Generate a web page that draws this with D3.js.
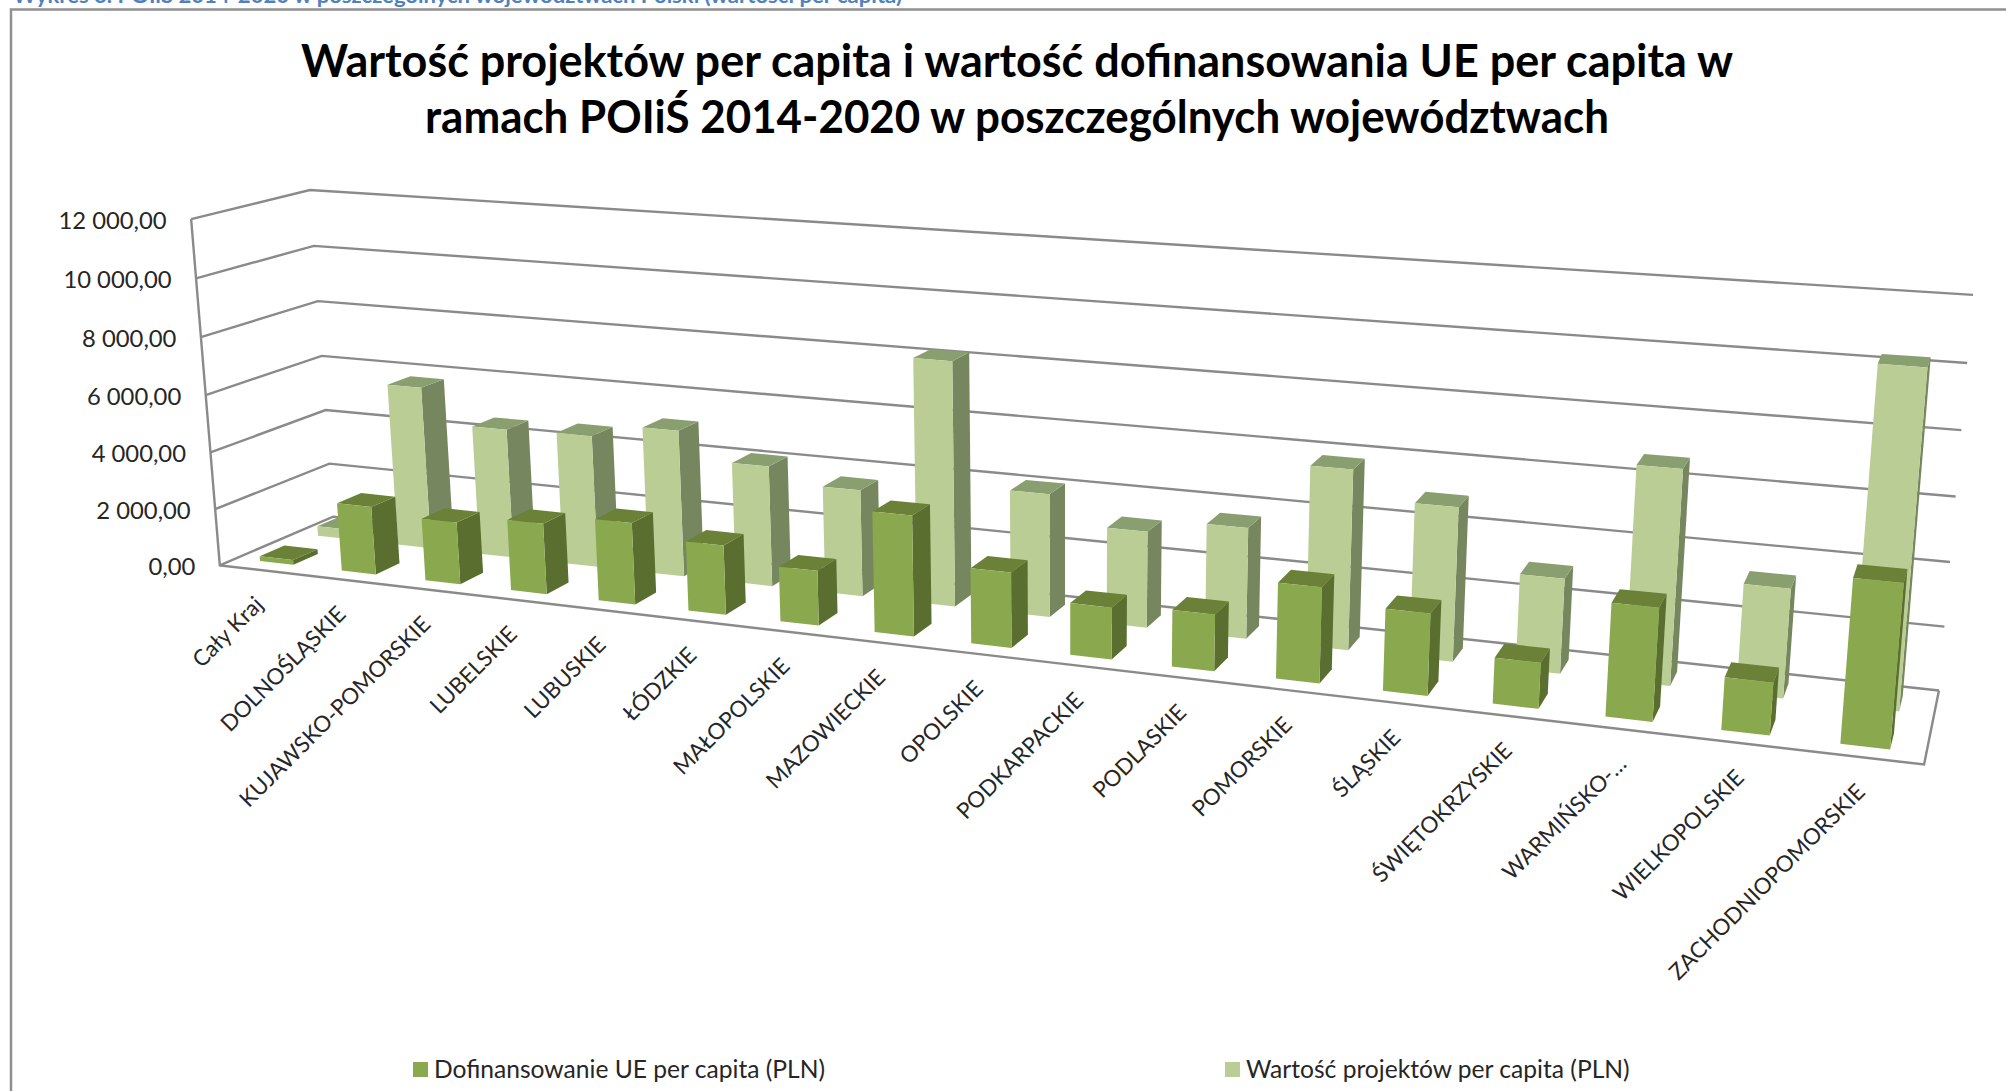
<!DOCTYPE html>
<html>
<head>
<meta charset="utf-8">
<script src="https://cdn.jsdelivr.net/npm/d3@7"></script>
<style>
html, body { margin: 0; padding: 0; background: #fff; }
svg { display: block; }
text { font-family: Lato, "Open Sans", sans-serif; fill: #262626; }
</style>
</head>
<body>
<div class="chart-container"></div>
<script>
var categories = ["Cały Kraj", "DOLNOŚLĄSKIE", "KUJAWSKO-POMORSKIE", "LUBELSKIE", "LUBUSKIE", "ŁÓDZKIE", "MAŁOPOLSKIE", "MAZOWIECKIE", "OPOLSKIE", "PODKARPACKIE", "PODLASKIE", "POMORSKIE", "ŚLĄSKIE", "ŚWIĘTOKRZYSKIE", "WARMIŃSKO-…", "WIELKOPOLSKIE", "ZACHODNIOPOMORSKIE"];
var dofinansowanie = [170, 2376, 2147, 2427, 2769, 2344, 1829, 3973, 2460, 1674, 1812, 3026, 2565, 1418, 3459, 1591, 4890];
var wartosc = [350, 5776, 4560, 4615, 5082, 4145, 3631, 8211, 4110, 3187, 3633, 5817, 4934, 3013, 6722, 3397, 10280];
var yTicks = [0, 2000, 4000, 6000, 8000, 10000, 12000];
var titleLines = ["Wartość projektów per capita i wartość dofinansowania UE per capita w", "ramach POIiŚ 2014-2020 w poszczególnych województwach"];
var titleWidths = [1432, 1184];
var caption = "Wykres 6. POIiŚ 2014-2020 w poszczególnych województwach Polski (wartości per capita)";
var legendNames = ["Dofinansowanie UE per capita (PLN)", "Wartość projektów per capita (PLN)"];

var W = 2006, H = 1091;

// box corners: [across, depth, height] -> [px, py]
var corners = [
    [0, 0, 0, 220, 565], [0, 1, 0, 333, 517], [1, 1, 0, 1939, 690], [1, 0, 0, 1924, 765],
    [0, 0, 1, 191, 219], [0, 1, 1, 310, 190], [1, 1, 1, 1973, 295]
];

// least squares for the 11 camera numbers
function solveCamera(pts) {
    var rows = [], rhs = [];
    pts.forEach(function(p) {
        var u = p[0], d = p[1], h = p[2], px = p[3] / 1000, py = p[4] / 1000;
        rows.push([u, d, h, 1, 0, 0, 0, 0, -u * px, -d * px, -h * px]); rhs.push(px);
        rows.push([0, 0, 0, 0, u, d, h, 1, -u * py, -d * py, -h * py]); rhs.push(py);
    });
    var n = 11, A = [];
    for (var i = 0; i < n; i++) {
        A.push([]);
        for (var j = 0; j <= n; j++) {
            var s = 0;
            rows.forEach(function(r, k) { s += r[i] * (j < n ? r[j] : rhs[k]); });
            A[i].push(s);
        }
    }
    for (var c = 0; c < n; c++) {
        var best = c;
        for (var r = c + 1; r < n; r++) if (Math.abs(A[r][c]) > Math.abs(A[best][c])) best = r;
        var tmp = A[c]; A[c] = A[best]; A[best] = tmp;
        for (var r2 = 0; r2 < n; r2++) {
            if (r2 === c) continue;
            var f = A[r2][c] / A[c][c];
            for (var k2 = c; k2 <= n; k2++) A[r2][k2] -= f * A[c][k2];
        }
    }
    return A.map(function(row, i) { return row[n] / row[i]; });
}
var cam = solveCamera(corners);

function project(u, d, h) {
    var w = cam[8] * u + cam[9] * d + cam[10] * h + 1;
    return [1000 * (cam[0] * u + cam[1] * d + cam[2] * h + cam[3]) / w,
            1000 * (cam[4] * u + cam[5] * d + cam[6] * h + cam[7]) / w];
}

var x = d3.scaleBand().domain(categories).range([0, 1]).paddingInner(0.59).paddingOuter(0.295);
var z = d3.scaleBand().domain(["front", "back"]).range([0, 1]).paddingInner(0.58).paddingOuter(0.27);
var y = d3.scaleLinear().domain([0, 12000]).range([0, 1]);
var poly = d3.line();

var svg = d3.select(".chart-container").append("svg").attr("width", W).attr("height", H);

// caption is cut by the top of the page in the source too
svg.append("text").attr("x", 13).attr("y", 3).attr("font-size", 21).attr("font-weight", 700)
    .style("fill", "#4f81bd").attr("textLength", 889).attr("lengthAdjust", "spacingAndGlyphs").text(caption);

// chart frame
svg.append("path").attr("d", "M11,1091V9.5H" + W).attr("fill", "none").attr("stroke", "#909090").attr("stroke-width", 2.5);

svg.selectAll("text.title").data(titleLines).enter().append("text").attr("class", "title")
    .attr("x", 1017).attr("y", function(d, i) { return 77 + i * 56; })
    .attr("text-anchor", "middle").attr("font-size", 45).attr("font-weight", 700).style("fill", "#000")
    .attr("textLength", function(d, i) { return titleWidths[i]; }).attr("lengthAdjust", "spacingAndGlyphs")
    .text(function(d) { return d; });

// walls and floor
var grid = svg.append("g").attr("fill", "none").attr("stroke", "#8a8a8a").attr("stroke-width", 2.4);
yTicks.forEach(function(t) {
    grid.append("path").attr("d", poly([project(0, 0, y(t)), project(0, 1, y(t)), project(1, 1, y(t))]));
});
grid.append("path").attr("d", poly([project(0, 0, y(12000)), project(0, 0, 0), project(1, 0, 0), project(1, 1, 0)]));

svg.selectAll("text.ytick").data(yTicks).enter().append("text").attr("class", "ytick")
    .attr("x", function(d) { return project(0, 0, y(d))[0] - 24.5; })
    .attr("y", function(d) { return project(0, 0, y(d))[1] + 10; })
    .attr("text-anchor", "end").attr("font-size", 23.8)
    .text(function(d) { return d3.format(",.2f")(d).replace(",", " ").replace(".", ","); });

function drawBars(values, row, colors) {
    var z0 = z(row), z1 = z0 + z.bandwidth();
    var g = svg.append("g").attr("class", "bars-" + row);
    categories.forEach(function(c, i) {
        var u0 = x(c), u1 = u0 + x.bandwidth(), h = y(values[i]);
        var faces = [
            [colors.side, [[u1, z0, 0], [u1, z1, 0], [u1, z1, h], [u1, z0, h]]],
            [colors.top, [[u0, z0, h], [u1, z0, h], [u1, z1, h], [u0, z1, h]]],
            [colors.front, [[u0, z0, 0], [u1, z0, 0], [u1, z0, h], [u0, z0, h]]]
        ];
        faces.forEach(function(f) {
            g.append("path").attr("fill", f[0])
                .attr("d", poly(f[1].map(function(p) { return project(p[0], p[1], p[2]); })) + "Z");
        });
    });
}
drawBars(wartosc, "back", {front: "#bacd94", side: "#76875f", top: "#8a9f70"});
drawBars(dofinansowanie, "front", {front: "#8aa84e", side: "#5a6e2f", top: "#6a8137"});

svg.selectAll("text.xtick").data(categories).enter().append("text").attr("class", "xtick")
    .attr("transform", function(d) {
        var u = x(d) + x.bandwidth() / 2, p = project(u, 0, 0);
        return "translate(" + (p[0] + 4) + "," + (p[1] + 36) + ") rotate(-45)";
    })
    .attr("text-anchor", "end").attr("font-size", 22.3).text(function(d) { return d; });

var legendX = [413, 1225];
var legendColors = ["#8aa84e", "#bacd94"];
legendNames.forEach(function(name, i) {
    svg.append("rect").attr("x", legendX[i]).attr("y", 1062).attr("width", 15).attr("height", 15).attr("fill", legendColors[i]);
    svg.append("text").attr("x", legendX[i] + 21).attr("y", 1078).attr("font-size", 24.6).text(name);
});
</script>
</body>
</html>
